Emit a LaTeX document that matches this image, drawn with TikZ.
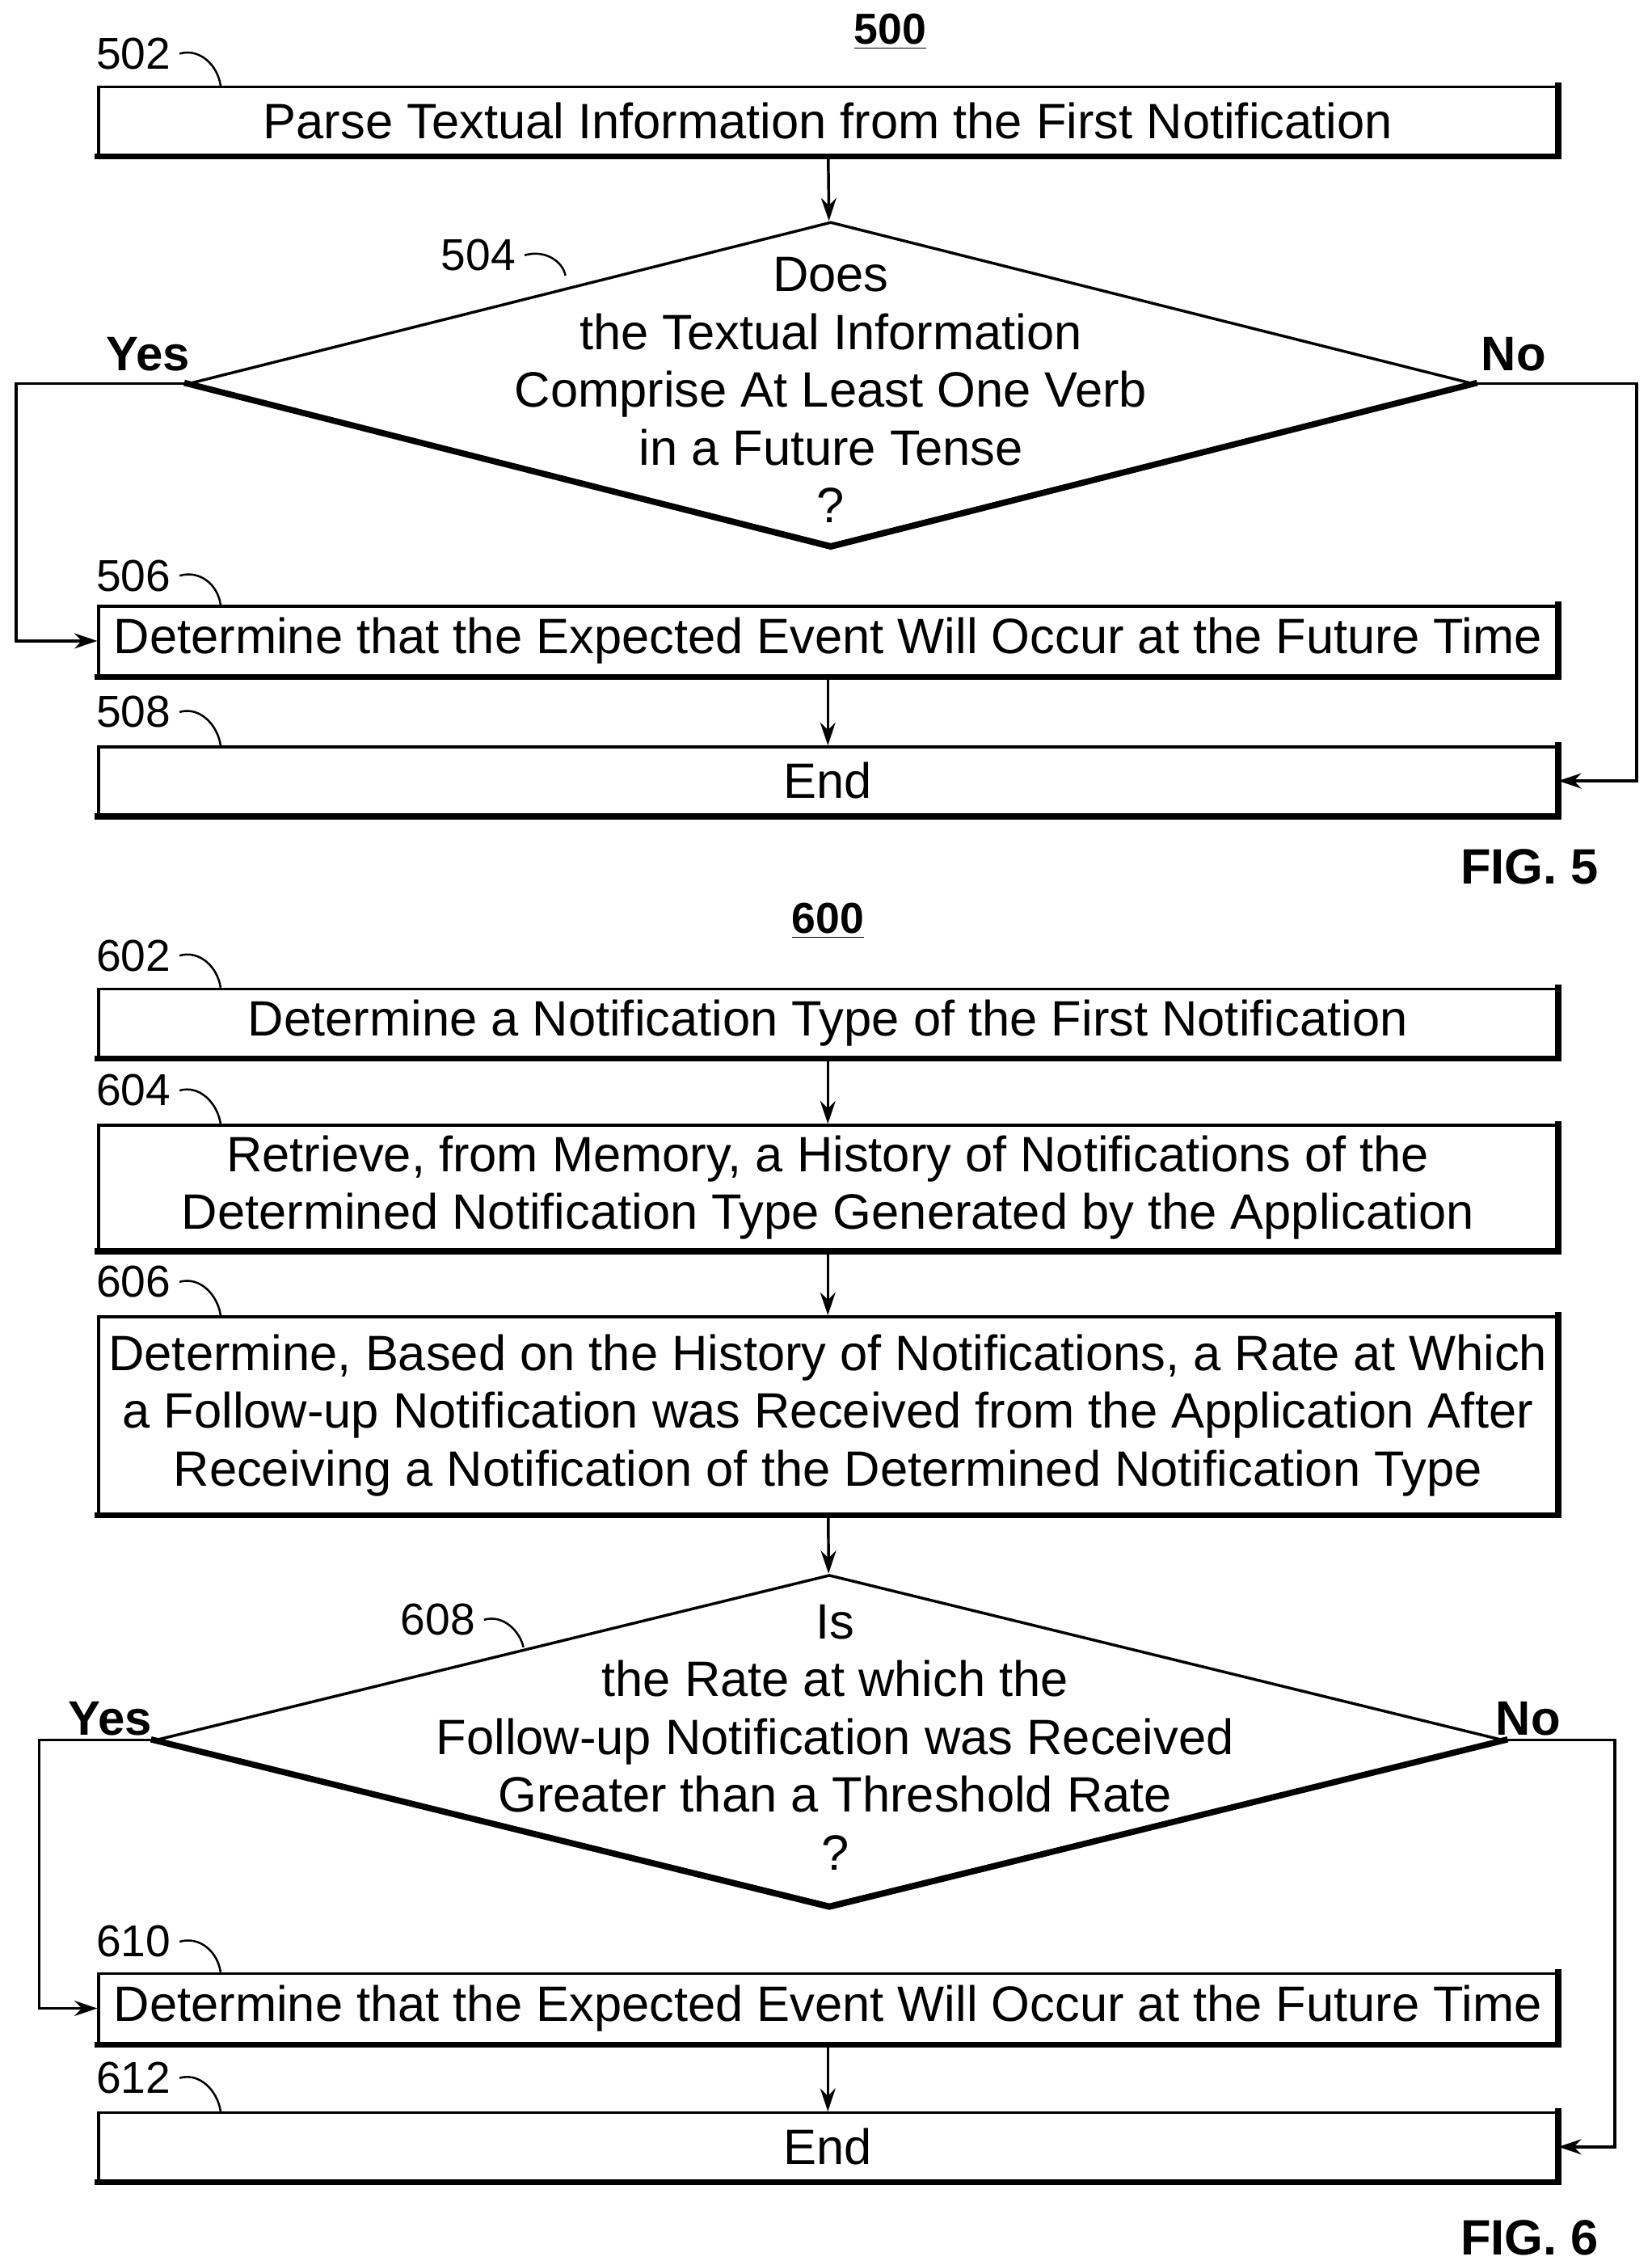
\documentclass[tikz,border=0pt]{standalone}
\usepackage{fontspec}
\setmainfont{Liberation Sans}
\usetikzlibrary{positioning, shapes.geometric, arrows.meta, calc}

\begin{document}
\begin{tikzpicture}[
    x=0.02cm, y=-0.02cm,
    >={Stealth[length=9pt,width=6pt]},
    % Styles
    box/.style={ % Process step
        rectangle,
        draw,
        line width=1.1pt,
        minimum width=20.12cm,
        inner sep=0pt,
        align=center,
        font=\fontsize{19.5}{22.7}\selectfont
    },
    test/.style={ % Decision shape
        diamond,
        draw,
        line width=1.1pt,
        inner sep=0pt
    },
    shadow/.style={
        line width=2.4pt,
        line cap=rect
    },
    txt/.style={
        align=center,
        font=\fontsize{19.5}{22.7}\selectfont
    },
    ref/.style={
        font=\fontsize{17.5}{20}\selectfont
    },
    yn/.style={
        font=\bfseries\fontsize{19}{22}\selectfont
    },
    lead/.style={
        line width=0.8pt
    },
    arrow/.style={
        ->,
        line width=1.1pt
    }
]
    \useasboundingbox (0,0) rectangle (1139,1562);

    % FIG. 5
    \node[font=\bfseries\fontsize{17}{20}\selectfont] (t500) at (614,22) {\underline{500}};
    \node[box, minimum height=0.94cm] (b502) at (571,83.5) {Parse Textual Information from the First Notification};
    \node[test, minimum width=17.72cm, minimum height=4.46cm] (d504) at (573,264.5) {};
    \node[txt] (q504) at (573,269) {Does\\the Textual Information\\Comprise At Least One Verb\\in a Future Tense\\?};
    \node[box, minimum height=0.96cm] (b506) at (571,442) {Determine that the Expected Event Will Occur at the Future Time};
    \node[box, minimum height=0.94cm] (b508) at (571,538.5) {End};
    \node[font=\bfseries\fontsize{19.5}{22}\selectfont] (fig5) at (1055,598) {FIG. 5};

    % FIG. 6
    \node[font=\bfseries\fontsize{17}{20}\selectfont] (t600) at (571,635) {\underline{600}};
    \node[box, minimum height=0.94cm] (b602) at (571,705.5) {Determine a Notification Type of the First Notification};
    \node[box, minimum height=1.72cm] (b604) at (571,819) {Retrieve, from Memory, a History of Notifications of the\\Determined Notification Type Generated by the Application};
    \node[box, minimum height=2.72cm] (b606) at (571,976) {Determine, Based on the History of Notifications, a Rate at Which\\a Follow-up Notification was Received from the Application After\\Receiving a Notification of the Determined Notification Type};
    \node[test, minimum width=18.6cm, minimum height=4.56cm] (d608) at (572,1200) {};
    \node[txt] (q608) at (576,1198) {Is\\the Rate at which the\\Follow-up Notification was Received\\Greater than a Threshold Rate\\?};
    \node[box, minimum height=0.96cm] (b610) at (571,1385) {Determine that the Expected Event Will Occur at the Future Time};
    \node[box, minimum height=0.94cm] (b612) at (571,1480.5) {End};
    \node[font=\bfseries\fontsize{19.5}{22}\selectfont] (fig6) at (1055,1543) {FIG. 6};

    % Shadows
    \foreach \b in {b502,b506,b508,b602,b604,b606,b610,b612}
        \draw[shadow] (\b.south west) -- (\b.south east) -- (\b.north east);
    \foreach \d in {d504,d608}
        \draw[shadow] (\d.west) -- (\d.south) -- (\d.east);

    % Reference numerals
    \foreach \n/\x/\y/\b in {502/92/37/b502, 506/92/397/b506, 508/92/491/b508,
                             602/92/659/b602, 604/92/752/b604, 606/92/884/b606,
                             610/92/1339/b610, 612/92/1433/b612} {
        \node[ref] (l\n) at (\x,\y) {\n};
        \draw[lead] (l\n.east) .. controls +(14,-4) and +(-2,-14) .. ($(\b.north west)+(85,0)$);
    }
    \node[ref] (l504) at (330,176) {504};
    \draw[lead] (l504.east) .. controls +(14,-4) and +(-2,-10) .. (390,190);
    \node[ref] (l608) at (302,1117) {608};
    \draw[lead] (l608.east) .. controls +(14,-4) and +(-2,-10) .. (361,1136);

    % Branch labels
    \node[yn] (y504) at (102,244) {Yes};
    \node[yn] (n504) at (1044,244) {No};
    \node[yn] (y608) at (76,1185) {Yes};
    \node[yn] (n608) at (1054,1185) {No};

    % Connectors
    \draw[arrow] (b502) -- (d504);
    \draw[arrow] (d504.west) -- ++(-118,0) |- (b506.west);
    \draw[arrow] (d504.east) -- ++(112,0) |- (b508.east);
    \draw[arrow] (b506) -- (b508);

    \draw[arrow] (b602) -- (b604);
    \draw[arrow] (b604) -- (b606);
    \draw[arrow] (b606) -- (d608);
    \draw[arrow] (d608.west) -- ++(-79,0) |- (b610.west);
    \draw[arrow] (d608.east) -- ++(76,0) |- (b612.east);
    \draw[arrow] (b610) -- (b612);
\end{tikzpicture}
\end{document}
